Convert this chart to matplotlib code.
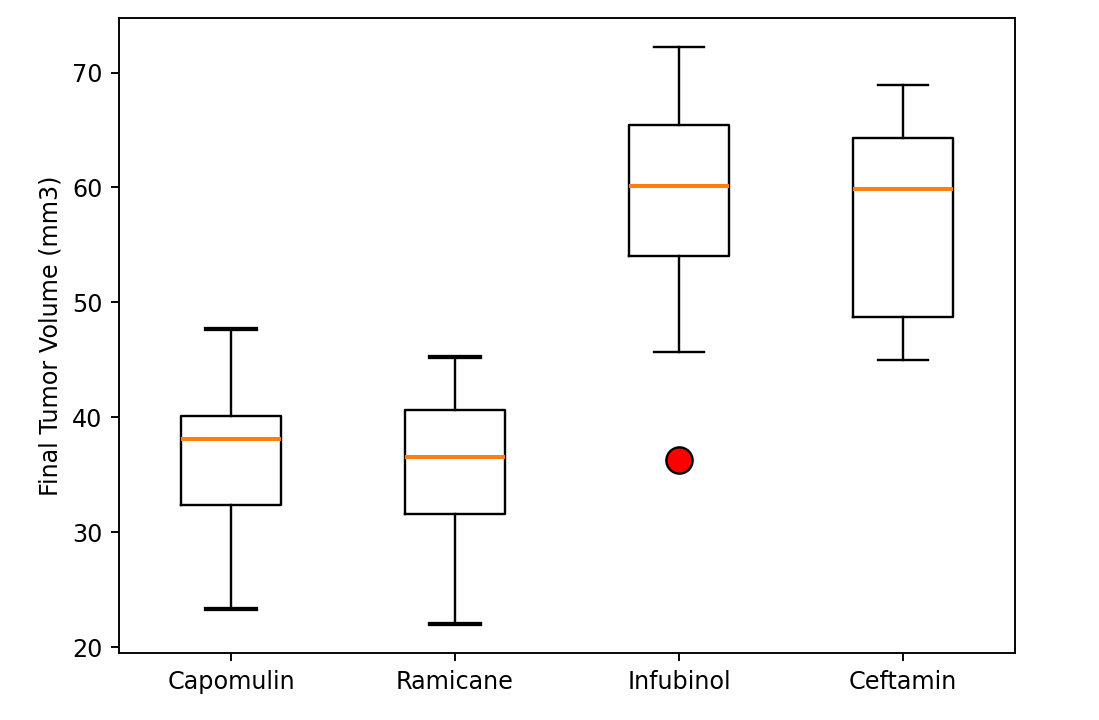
import matplotlib
matplotlib.use("Agg")
import matplotlib.pyplot as plt

treatments = ["Capomulin", "Ramicane", "Infubinol", "Ceftamin"]
q1 = [32.38, 31.56, 54.05, 48.72]
medians = [38.13, 36.56, 60.17, 59.85]
q3 = [40.16, 40.66, 65.45, 64.28]
whislo = [23.34, 22.02, 45.70, 45.00]
whishi = [47.69, 45.22, 72.23, 68.88]
outliers = [[], [], [36.32], []]

stats = []
for i, name in enumerate(treatments):
    stats.append(dict(label=name, q1=q1[i], med=medians[i], q3=q3[i],
                      whislo=whislo[i], whishi=whishi[i], fliers=outliers[i]))

fig = plt.figure(figsize=(6.4, 720 / 1099 * 6.4), dpi=1099 / 6.4)
ax = fig.add_axes([119 / 1099, 67 / 720, 896 / 1099, 635 / 720])

bp = ax.bxp(stats,
            flierprops=dict(marker="o", markerfacecolor="red", markeredgecolor="black",
                            markersize=11),
            medianprops=dict(color="#ff7f0e", linewidth=1.7))

for i in range(2):
    for cap in bp["caps"][2 * i:2 * i + 2]:
        cap.set_linewidth(1.8)

ax.set_ylabel("Final Tumor Volume (mm3)")
fig.savefig("out.png")
